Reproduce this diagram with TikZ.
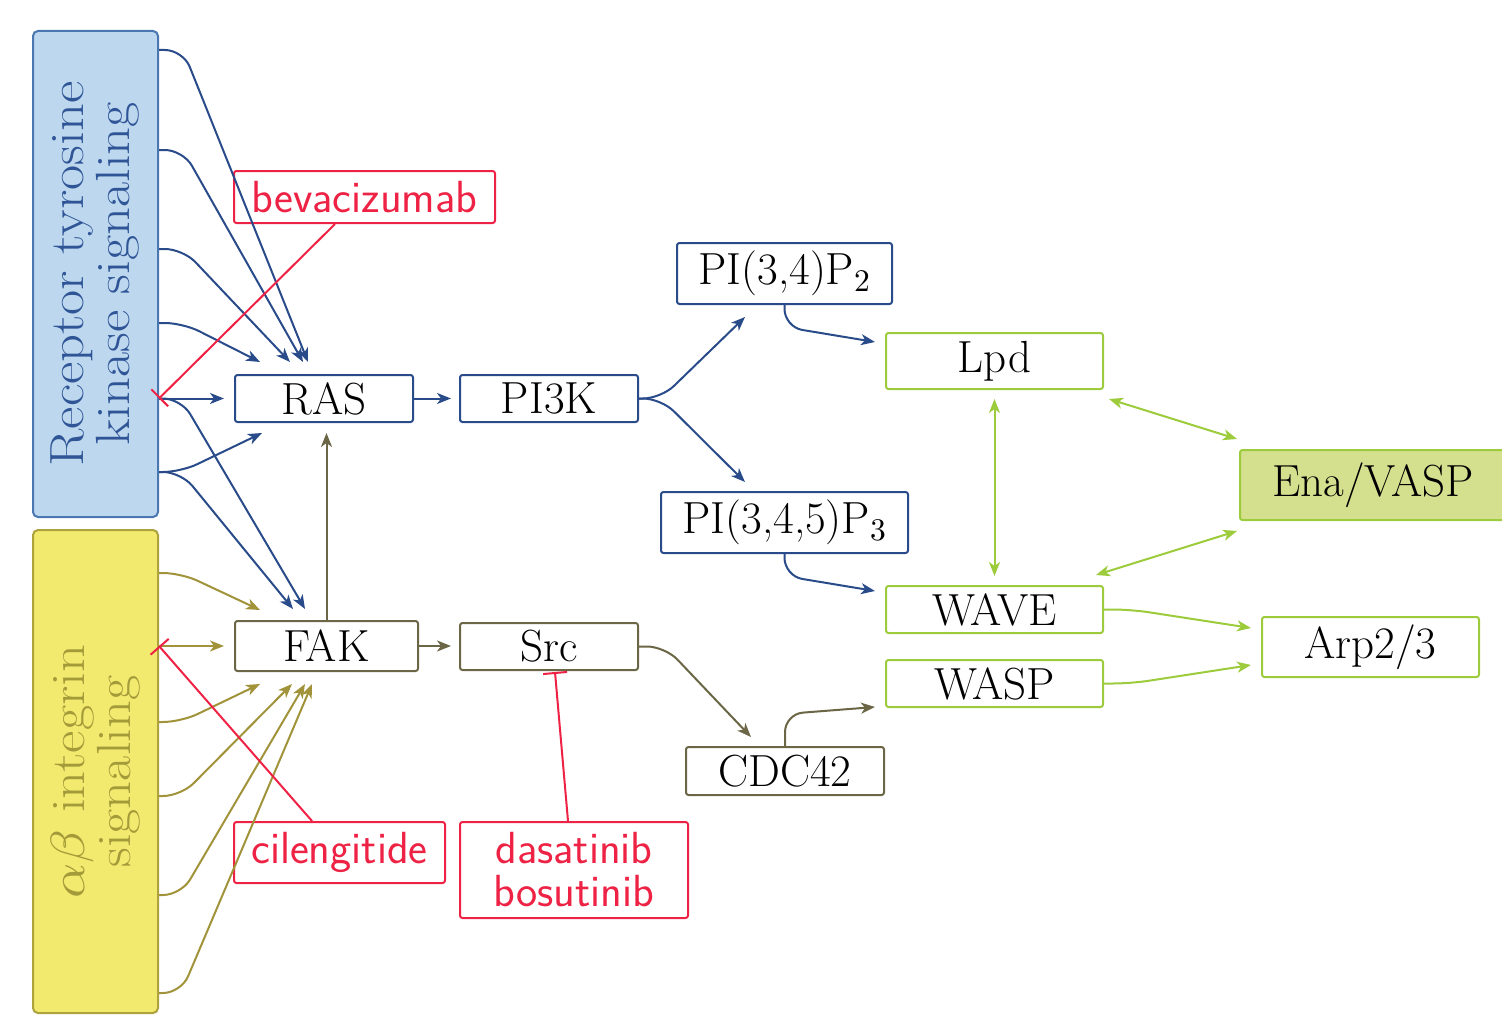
\documentclass[tikz,border=0pt]{standalone}
\DeclareFontShape{OML}{cmm}{m}{it}{<->cmmi10}{}
\DeclareFontShape{OT1}{cmr}{m}{n}{<->cmr10}{}
\DeclareFontShape{OMS}{cmsy}{m}{n}{<->cmsy10}{}
\usetikzlibrary{arrows.meta}
\definecolor{rtkfill}{HTML}{BDD7EE}
\definecolor{rtkdraw}{HTML}{4A76B2}
\definecolor{rtktext}{HTML}{2F5597}
\definecolor{dnavy}{HTML}{2A4B8A}
\definecolor{intfill}{HTML}{F2EA6E}
\definecolor{intdraw}{HTML}{ADA23C}
\definecolor{inttext}{HTML}{A39A3A}
\definecolor{olarrow}{HTML}{A0933A}
\definecolor{oldark}{HTML}{6B6645}
\definecolor{grn}{HTML}{9CCB3C}
\definecolor{enafill}{HTML}{D5E08F}
\definecolor{drugred}{HTML}{EE2244}
\newcommand\dgmainfont{\fontsize{45}{48}\selectfont}
\newcommand\dgrotfont{\fontsize{48}{46}\selectfont}
\newcommand\dgdrugfont{\fontsize{45}{43}\sffamily\selectfont}
\tikzset{
  bx/.style={draw, line width=2pt, rounded corners=2.5pt, inner sep=0pt, font=\dgmainfont},
  bluebx/.style={bx, draw=dnavy},
  olbx/.style={bx, draw=oldark},
  grbx/.style={bx, draw=grn},
  drugbx/.style={bx, draw=drugred, text=drugred, font=\dgdrugfont, align=center},
  arr/.style={line width=2pt, -{Stealth[length=14pt,width=11pt,inset=4pt]}},
  darr/.style={line width=2pt, {Stealth[length=14pt,width=11pt,inset=4pt]}-{Stealth[length=14pt,width=11pt,inset=4pt]}},
  barr/.style={arr, draw=dnavy},
  yarr/.style={arr, draw=olarrow},
  oarr/.style={arr, draw=oldark},
  garr/.style={arr, draw=grn},
  gdarr/.style={darr, draw=grn},
  inh/.style={line width=2pt, draw=drugred, -{Bar[width=24pt,line width=2pt]}},
  rc/.style={rounded corners=18pt},
  sidetext/.style={rotate=90, xscale=1.14, align=center, font=\dgrotfont, inner sep=0pt}
}
\begin{document}
\begin{tikzpicture}[x=1pt,y=-1pt]
\useasboundingbox (0,0) rectangle (1502,1025);

% side boxes
\node[draw=rtkdraw, fill=rtkfill, line width=2pt, rounded corners=5pt, minimum width=125pt, minimum height=486pt, inner sep=0pt] (RTK) at (95.5,274) {};
\node[sidetext, text=rtktext] (RTKt) at (RTK.center) {Receptor tyrosine\\kinase signaling};
\node[draw=intdraw, fill=intfill, line width=2pt, rounded corners=5pt, minimum width=125pt, minimum height=483pt, inner sep=0pt] (INT) at (95.5,771.5) {};
\node[sidetext, text=inttext] (INTt) at (INT.center) {$\alpha\beta$ integrin\\signaling};

% main nodes
\node[bluebx, minimum width=178pt, minimum height=47pt] (RAS) at (324,398.5) {RAS};
\node[bluebx, minimum width=178pt, minimum height=47pt] (PI3K) at (549,398.5) {PI3K};
\node[bluebx, minimum width=215pt, minimum height=61pt] (PI2) at (784.5,273.5) {PI(3,4)P$_2$};
\node[bluebx, minimum width=247pt, minimum height=61pt] (PI3) at (784.5,522.5) {PI(3,4,5)P$_3$};
\node[grbx, minimum width=217pt, minimum height=56pt] (Lpd) at (994.5,361) {Lpd};
\node[grbx, fill=enafill, minimum width=266pt, minimum height=70pt] (Ena) at (1373,485) {Ena/VASP};
\node[grbx, minimum width=217pt, minimum height=47pt] (WAVE) at (994.5,609.5) {WAVE};
\node[grbx, minimum width=217pt, minimum height=47pt] (WASP) at (994.5,683.5) {WASP};
\node[grbx, minimum width=217pt, minimum height=60pt] (Arp) at (1370.5,647) {Arp2/3};
\node[olbx, minimum width=183pt, minimum height=50pt] (FAK) at (326.5,646) {FAK};
\node[olbx, minimum width=178pt, minimum height=47pt] (Src) at (549,646.5) {Src};
\node[olbx, minimum width=198pt, minimum height=48pt] (CDC) at (785,771) {CDC42};

% drugs
\node[drugbx, minimum width=261pt, minimum height=52pt] (bev) at (364.5,197) {bevacizumab};
\node[drugbx, minimum width=211pt, minimum height=61pt] (cil) at (339.5,852.5) {cilengitide};
\node[drugbx, minimum width=228pt, minimum height=96pt] (das) at (574,870) {dasatinib\\bosutinib};

% RTK arrows
\draw[barr, rc] (RTK.east |- 0,50) -- ++(24,0) -- ([shift={(-16,-12)}]RAS.north);
\draw[barr, rc] (RTK.east |- 0,150) -- ++(24,0) -- ([shift={(-21,-12)}]RAS.north);
\draw[barr, rc] (RTK.east |- 0,249) -- ++(24,0) -- ([shift={(-34,-12)}]RAS.north);
\draw[barr, rc] (RTK.east |- 0,323) -- ++(24,0) -- ([shift={(-64,-12)}]RAS.north);
\draw[barr] (RTK.east |- RAS.west) -- ([shift={(-10,0)}]RAS.west);
\draw[barr, rc] (RTK.east |- RAS.west) -- ++(22,0) -- ([shift={(-21.5,-11)}]FAK.north);
\draw[barr, rc] (RTK.east |- 0,472) -- ++(22,0) -- ([shift={(-62,10)}]RAS.south);
\draw[barr, rc] (RTK.east |- 0,472) -- ++(22,0) -- ([shift={(-33.5,-11)}]FAK.north);

% integrin arrows
\draw[yarr, rc] (INT.east |- 0,573) -- ++(22,0) -- ([shift={(-66.5,-10)}]FAK.north);
\draw[yarr] (INT.east |- FAK.west) -- ([shift={(-10,0)}]FAK.west);
\draw[yarr, rc] (INT.east |- 0,722) -- ++(22,0) -- ([shift={(-66.5,12)}]FAK.south);
\draw[yarr, rc] (INT.east |- 0,796) -- ++(22,0) -- ([shift={(-34.5,12)}]FAK.south);
\draw[yarr, rc] (INT.east |- 0,895) -- ++(22,0) -- ([shift={(-21.5,12)}]FAK.south);
\draw[yarr, rc] (INT.east |- 0,993) -- ++(22,0) -- ([shift={(-14.5,12)}]FAK.south);

% pathway arrows
\draw[oarr] (FAK.north) -- ([shift={(0,10)}]FAK.north |- RAS.south);
\draw[barr, shorten >=8pt] (RAS.east) -- (PI3K.west);
\draw[oarr, shorten >=8pt] (FAK.east) -- (Src.west |- FAK.east);
\draw[barr, rc] (PI3K.east) -- ++(22,0) -- ([shift={(-39.5,12)}]PI2.south);
\draw[barr, rc] (PI3K.east) -- ++(22,0) -- ([shift={(-39.5,-9)}]PI3.north);
\draw[barr, rc] (PI2.south) -- ++(0,22) -- ([shift={(-10,-19)}]Lpd.west);
\draw[barr, rc] (PI3.south) -- ++(0,22) -- ([shift={(-10,-18.5)}]WAVE.west);
\draw[oarr, rc] (Src.east) -- ++(26,0) -- ([shift={(66,-9)}]CDC.north west);
\draw[oarr, rc] (CDC.north) -- ++(0,-32) -- ([shift={(-10,23.5)}]WASP.west);

% green arrows
\draw[gdarr] ([shift={(0,9)}]Lpd.south) -- ([shift={(0,-9)}]WAVE.north);
\draw[gdarr] ([shift={(5,9)}]Lpd.south east) -- ([shift={(-2,-10)}]Ena.north west);
\draw[gdarr] ([shift={(-8,-10)}]WAVE.north east) -- ([shift={(-2,10)}]Ena.south west);
\draw[garr, rc] (WAVE.east) -- ++(27,0) -- ([shift={(-10,-19)}]Arp.west);
\draw[garr, rc] (WASP.east) -- ++(27,0) -- ([shift={(-10,18)}]Arp.west);

% inhibitions
\draw[inh] ([shift={(-29.5,0)}]bev.south) -- (RTK.east |- RAS.west);
\draw[inh] ([shift={(-27.5,0)}]cil.north) -- (INT.east |- FAK.west);
\draw[inh] ([shift={(-6,0)}]das.north) -- ([shift={(6,1)}]Src.south);
\end{tikzpicture}
\end{document}
